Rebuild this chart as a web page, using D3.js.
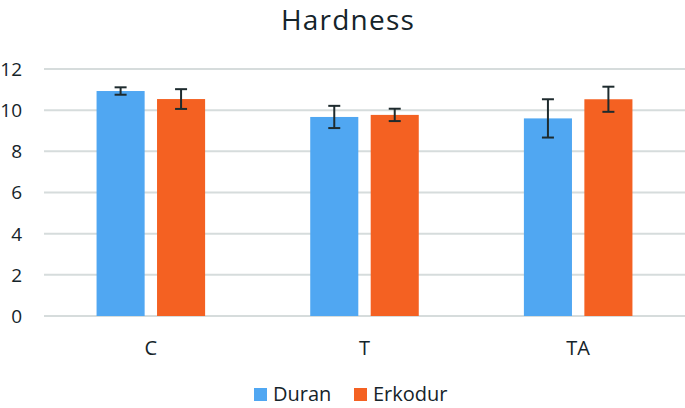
<!DOCTYPE html>
<html lang="en">
<head>
    <meta charset="UTF-8">
    <title>Hardness</title>
    <script src="https://d3js.org/d3.v7.min.js"></script>
    <style>
        body { margin: 0; background: #fff; }
        svg { display: block; font-family: "Open Sans", "Noto Sans", sans-serif; }
    </style>
</head>
<body>
    <svg id="chart" width="685" height="408"></svg>
    <script>
        // data
        const categories = ["C", "T", "TA"];
        const seriesNames = ["Duran", "Erkodur"];
        const duranValues = [10.93, 9.67, 9.6];
        const duranErrors = [0.18, 0.54, 0.93];
        const erkodurValues = [10.54, 9.77, 10.53];
        const erkodurErrors = [0.48, 0.3, 0.61];
        const yTicks = [0, 2, 4, 6, 8, 10, 12];

        const colors = { Duran: "#50a7f2", Erkodur: "#f46122" };
        const textColor = "#15242a";

        const svg = d3.select("#chart");
        const margin = { top: 69, right: 0, bottom: 92, left: 44 };
        const width = 685;
        const height = 408;

        const x = d3.scaleBand()
            .domain(categories)
            .range([margin.left, width - margin.right]);

        const y = d3.scaleLinear()
            .domain([0, 12])
            .range([height - margin.bottom, margin.top]);

        const barWidth = x.bandwidth() * 0.225;
        const barGap = x.bandwidth() * 0.058;

        // gridlines
        svg.append("g")
            .selectAll("line")
            .data(yTicks)
            .enter()
            .append("line")
            .attr("x1", margin.left)
            .attr("x2", width - margin.right)
            .attr("y1", d => y(d))
            .attr("y2", d => y(d))
            .attr("stroke", "#d6dcdc")
            .attr("stroke-width", 2);

        // y tick labels
        svg.append("g")
            .selectAll("text")
            .data(yTicks)
            .enter()
            .append("text")
            .attr("x", 22)
            .attr("y", d => y(d))
            .attr("dy", "0.36em")
            .attr("text-anchor", "end")
            .attr("font-size", 19)
            .attr("fill", textColor)
            .text(d => d);

        const rows = categories.map((c, i) => ({
            cat: c,
            items: [
                { name: "Duran", value: duranValues[i], err: duranErrors[i] },
                { name: "Erkodur", value: erkodurValues[i], err: erkodurErrors[i] }
            ]
        }));

        const groups = svg.append("g")
            .selectAll("g")
            .data(rows)
            .enter()
            .append("g")
            .attr("transform", d => `translate(${x(d.cat) + (x.bandwidth() - (barWidth * 2 + barGap)) / 2},0)`);

        groups.selectAll("rect")
            .data(d => d.items)
            .enter()
            .append("rect")
            .attr("x", (d, i) => i * (barWidth + barGap))
            .attr("y", d => y(d.value))
            .attr("width", barWidth)
            .attr("height", d => y(0) - y(d.value))
            .attr("fill", d => colors[d.name]);

        // error bars
        const errs = groups.selectAll("g.err")
            .data(d => d.items)
            .enter()
            .append("g")
            .attr("class", "err")
            .attr("stroke", "#1e2b2e")
            .attr("stroke-width", 2);

        const cx = (d, i) => i * (barWidth + barGap) + barWidth / 2;

        errs.append("line")
            .attr("x1", cx).attr("x2", cx)
            .attr("y1", d => y(d.value + d.err))
            .attr("y2", d => y(d.value - d.err));
        errs.append("line")
            .attr("x1", (d, i) => cx(d, i) - 6).attr("x2", (d, i) => cx(d, i) + 6)
            .attr("y1", d => y(d.value + d.err))
            .attr("y2", d => y(d.value + d.err));
        errs.append("line")
            .attr("x1", (d, i) => cx(d, i) - 6).attr("x2", (d, i) => cx(d, i) + 6)
            .attr("y1", d => y(d.value - d.err))
            .attr("y2", d => y(d.value - d.err));

        // category labels
        svg.append("g")
            .selectAll("text")
            .data(categories)
            .enter()
            .append("text")
            .attr("x", d => x(d) + x.bandwidth() / 2)
            .attr("y", 355)
            .attr("text-anchor", "middle")
            .attr("font-size", 20)
            .attr("fill", textColor)
            .text(d => d);

        // title
        svg.append("text")
            .attr("x", 348)
            .attr("y", 30)
            .attr("text-anchor", "middle")
            .attr("font-size", 28)
            .attr("letter-spacing", 1.2)
            .attr("fill", textColor)
            .text("Hardness");

        // legend
        const legendX = [254, 354];
        const legend = svg.append("g")
            .selectAll("g")
            .data(seriesNames)
            .enter()
            .append("g")
            .attr("transform", (d, i) => `translate(${legendX[i]},388)`);

        legend.append("rect")
            .attr("width", 13)
            .attr("height", 13)
            .attr("fill", d => colors[d]);

        legend.append("text")
            .attr("x", 19)
            .attr("y", 13)
            .attr("font-size", 20)
            .attr("fill", textColor)
            .text(d => d);
    </script>
</body>
</html>
